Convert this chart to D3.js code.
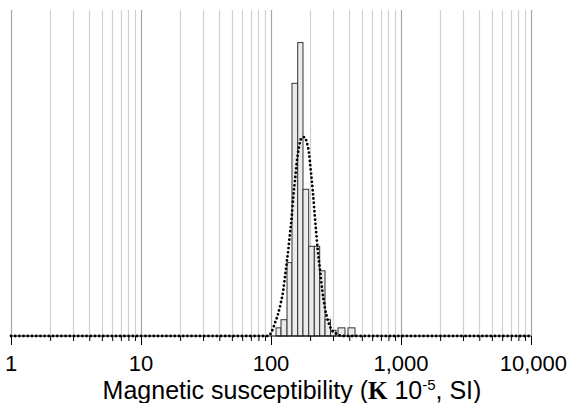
<!DOCTYPE html>
<html><head><meta charset="utf-8">
<script src="https://cdn.jsdelivr.net/npm/d3@7"></script>
<style>body{margin:0;background:#fff}svg{display:block}</style>
</head><body><svg id="c" width="572" height="403"></svg>
<script>
// Histogram bins (magnetic susceptibility, x10^-5 SI) and counts
const binLo = [109.3, 119.4, 132.8, 145.0, 160.5, 176.2, 195.0, 215.3, 236.9, 260.3, 286.9, 327.6, 391.2];
const binHi = [119.4, 132.8, 145.0, 160.5, 176.2, 195.0, 215.3, 236.9, 260.3, 286.9, 316.2, 370.8, 442.8];
const counts = [1, 2, 9, 31, 36, 18, 11, 11, 8, 2, 0.7, 1, 1];
// Fitted (dotted) curve
const curveX = [1, 95, 101.3, 107.3, 113.8, 118.7, 124.3, 128.2, 132.1, 135.9, 140.0, 144.3, 148.4, 152.9, 157.6, 164.2, 172.2, 180.4, 188.2, 196.0, 202.0, 209.3, 215.3, 221.9, 228.7, 238.2, 248.1, 260.3, 275.9, 293.1, 320.2, 360, 10000];
const curveY = [0, 0, 0.53, 1.6, 2.8, 4.0, 5.6, 7.3, 9.0, 10.6, 12.6, 14.6, 17.1, 19.1, 21.2, 23.2, 24.3, 24.4, 23.8, 22.4, 20.4, 17.9, 15.5, 13.0, 10.6, 8.1, 5.6, 3.4, 1.75, 0.74, 0.25, 0, 0];
const tickValues = [1, 10, 100, 1000, 10000];
const tickLabels = ["1", "10", "100", "1,000", "10,000"];
const yMax = 40;

const svg = d3.select("#c");
const x = d3.scaleLog().domain([1, 10000]).range([11, 531]);
const y = d3.scaleLinear().domain([0, yMax]).range([336, 10]);

// gridlines
const grid = [];
for (let d = 1; d < 10000; d *= 10) for (let m = 1; m < 10; m++) grid.push(d * m);
grid.push(10000);
svg.append("g").selectAll("line").data(grid).join("line")
  .attr("x1", d => Math.round(x(d)) + 0.5).attr("x2", d => Math.round(x(d)) + 0.5)
  .attr("y1", y(yMax)).attr("y2", y(0))
  .attr("stroke", d => tickValues.includes(d) ? "#a6a6a6" : "#d0d0d0")
  .attr("stroke-width", 1.2);

// bars
svg.append("g").selectAll("rect").data(counts).join("rect")
  .attr("x", (d, i) => x(binLo[i]))
  .attr("width", (d, i) => x(binHi[i]) - x(binLo[i]))
  .attr("y", d => y(d))
  .attr("height", d => y(0) - y(d))
  .attr("fill", "#ebebeb").attr("stroke", "#333").attr("stroke-width", 1);

// axis
const axis = d3.axisBottom(x).tickValues(grid).tickSize(5).tickFormat("");
const gA = svg.append("g").attr("transform", "translate(0,336)").call(axis);
gA.select(".domain").attr("stroke", "#000").attr("stroke-width", 1.2).attr("d", "M11,0H531");
gA.selectAll(".tick line").attr("stroke", "#000").attr("y2", d => tickValues.includes(d) ? 9 : 5);
svg.append("g").selectAll("text").data(tickValues).join("text")
  .attr("x", d => x(d)).attr("y", 371)
  .attr("text-anchor", (d, i) => i === tickValues.length - 1 ? "end" : "middle")
  .attr("dx", (d, i) => i === tickValues.length - 1 ? 36 : 0)
  .attr("font-family", "Liberation Sans, Arial, sans-serif").attr("font-size", 22)
  .attr("fill", "#000")
  .text((d, i) => tickLabels[i]);

// dotted curve
const line = d3.line().x((d, i) => x(curveX[i])).y((d, i) => y(curveY[i])).curve(d3.curveMonotoneX);
svg.append("path").datum(curveY).attr("d", line)
  .attr("fill", "none").attr("stroke", "#000").attr("stroke-width", 2.8)
  .attr("stroke-linecap", "round").attr("stroke-dasharray", "0 4.2");

// title
const t = svg.append("text").attr("x", 292).attr("y", 399).attr("text-anchor", "middle")
  .attr("font-family", "Liberation Sans, Arial, sans-serif").attr("font-size", 25).attr("fill", "#000");
t.append("tspan").text("Magnetic susceptibility (");
t.append("tspan").attr("font-family", "Liberation Serif, serif").attr("font-weight", "bold").text("Κ");
t.append("tspan").text(" 10");
t.append("tspan").attr("font-size", 15).attr("dy", -9).text("-5");
t.append("tspan").attr("dy", 9).text(", SI)");
</script></body></html>
